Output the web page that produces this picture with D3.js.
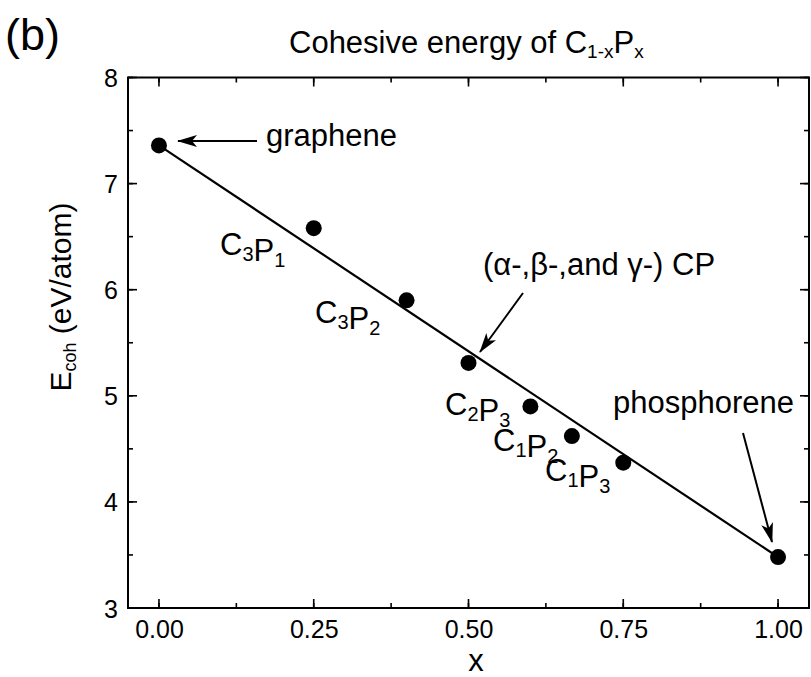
<!DOCTYPE html>
<html>
<head>
<meta charset="utf-8">
<script src="https://cdn.jsdelivr.net/npm/d3@7"></script>
<style>
  html, body { margin: 0; padding: 0; background: #fff; }
  svg text { fill: #000; font-family: "Liberation Sans", Arial, Helvetica, sans-serif; }
</style>
</head>
<body>
<svg id="chart" width="811" height="677"></svg>
<script>
// Cohesive energy of C(1-x)P(x) compounds
const compounds = ["graphene", "C3P1", "C3P2", "CP", "C2P3", "C1P2", "C1P3", "phosphorene"];
const xFraction = [0.00, 0.25, 0.40, 0.50, 0.60, 0.667, 0.75, 1.00];
const ecoh      = [7.36, 6.58, 5.90, 5.31, 4.90, 4.62, 4.37, 3.48];
const xTicks = [0.00, 0.25, 0.50, 0.75, 1.00];
const xTickLabels = ["0.00", "0.25", "0.50", "0.75", "1.00"];
const yTicks = [3, 4, 5, 6, 7, 8];
// Linear trend drawn between the two elemental end members
const trendX = [0.00, 1.00];
const trendY = [7.36, 3.48];

const svg = d3.select("#chart");
const plotL = 128, plotR = 809, plotT = 77.5, plotB = 608;

const x = d3.scaleLinear().domain([-0.05, 1.05]).range([plotL, plotR]);
const y = d3.scaleLinear().domain([3, 8]).range([plotB, plotT]);

// frame
svg.append("rect")
  .attr("x", plotL).attr("y", plotT)
  .attr("width", plotR - plotL).attr("height", plotB - plotT)
  .attr("fill", "none").attr("stroke", "#000").attr("stroke-width", 2);

const xMinor = d3.range(0, 1.0001, 0.125);
const yMinor = d3.range(3, 8.0001, 0.5);

function ticks(g, scale, vals, len, side) {
  vals.forEach(v => {
    const p = scale(v);
    if (side === "bottom") g.append("line").attr("x1", p).attr("x2", p).attr("y1", plotB).attr("y2", plotB - len);
    if (side === "top") g.append("line").attr("x1", p).attr("x2", p).attr("y1", plotT).attr("y2", plotT + len);
    if (side === "left") g.append("line").attr("y1", p).attr("y2", p).attr("x1", plotL).attr("x2", plotL + len);
    if (side === "right") g.append("line").attr("y1", p).attr("y2", p).attr("x1", plotR).attr("x2", plotR - len);
  });
}
const tg = svg.append("g").attr("stroke", "#000").attr("stroke-width", 1.6);
["bottom", "top"].forEach(s => { ticks(tg, x, xMinor, 5, s); ticks(tg, x, xTicks, 9, s); });
["left", "right"].forEach(s => { ticks(tg, y, yMinor, 5, s); ticks(tg, y, yTicks, 9, s); });

// tick labels via d3 axes (lines hidden, text kept)
const xAxis = svg.append("g").attr("transform", `translate(0,${plotB})`)
  .call(d3.axisBottom(x).tickValues(xTicks).tickFormat((d, i) => xTickLabels[i]).tickSize(0).tickPadding(30));
const yAxis = svg.append("g").attr("transform", `translate(${plotL},0)`)
  .call(d3.axisLeft(y).tickValues(yTicks).tickFormat(d3.format("d")).tickSize(0).tickPadding(10));
[xAxis, yAxis].forEach(a => {
  a.select(".domain").remove();
  a.selectAll("text").attr("font-size", 25).attr("fill", "#000")
    .attr("font-family", "'Liberation Sans', Arial, sans-serif");
});
yAxis.selectAll("text").attr("dy", "0.36em");
xAxis.selectAll("text").attr("dy", 0);

// trend line
svg.append("path")
  .datum(trendX.map((d, i) => [d, trendY[i]]))
  .attr("d", d3.line().x(d => x(d[0])).y(d => y(d[1])))
  .attr("fill", "none").attr("stroke", "#000").attr("stroke-width", 2.2);

// data points
svg.append("g").selectAll("circle")
  .data(xFraction.map((d, i) => ({ x: d, y: ecoh[i] })))
  .join("circle")
  .attr("cx", d => x(d.x)).attr("cy", d => y(d.y)).attr("r", 8)
  .attr("fill", "#000");

// arrowhead marker
svg.append("defs").append("marker")
  .attr("id", "arrow").attr("viewBox", "0 0 20 12")
  .attr("refX", 19).attr("refY", 6)
  .attr("markerWidth", 20).attr("markerHeight", 12)
  .attr("markerUnits", "userSpaceOnUse").attr("orient", "auto")
  .append("path").attr("d", "M0,0 L20,6 L0,12 L5,6 Z").attr("fill", "#000");

function arrow(x1, y1, x2, y2) {
  svg.append("line").attr("x1", x1).attr("y1", y1).attr("x2", x2).attr("y2", y2)
    .attr("stroke", "#000").attr("stroke-width", 2).attr("marker-end", "url(#arrow)");
}
arrow(257, 141, 178, 141);
arrow(523, 293, 480, 352);
arrow(743, 433, 772, 542);

// plain annotations
function label(txt, px, py, size) {
  svg.append("text").attr("x", px).attr("y", py).attr("font-size", size).text(txt);
}
label("graphene", 266, 146, 31);
label("(α-,β-,and γ-) CP", 483, 275, 31);
label("phosphorene", 613, 413, 31);

// formula labels with subscripts
function formula(parts, px, py) {
  const t = svg.append("text").attr("x", px).attr("y", py).attr("font-size", 31);
  parts.forEach(([main, sub]) => {
    t.append("tspan").text(main);
    t.append("tspan").attr("font-size", 20).attr("dy", 6).text(sub);
    t.append("tspan").attr("dy", -6).text("");
  });
}
formula([["C", "3"], ["P", "1"]], 220, 255);
formula([["C", "3"], ["P", "2"]], 315, 323);
formula([["C", "2"], ["P", "3"]], 445, 415);
formula([["C", "1"], ["P", "2"]], 493, 451);
formula([["C", "1"], ["P", "3"]], 545, 481);

// title
const title = svg.append("text").attr("x", 289).attr("y", 53).attr("font-size", 31);
title.append("tspan").text("Cohesive energy of C");
title.append("tspan").attr("font-size", 19).attr("dy", 5).text("1-x");
title.append("tspan").attr("dy", -5).text("P");
title.append("tspan").attr("font-size", 19).attr("dy", 5).text("x");

// panel tag
svg.append("text").attr("x", 5).attr("y", 50).attr("font-size", 45).text("(b)");

// axis titles
svg.append("text").attr("x", 476).attr("y", 671)
  .attr("text-anchor", "middle").attr("font-size", 31).text("x");

const yt = svg.append("text")
  .attr("transform", "translate(71,297) rotate(-90)")
  .attr("text-anchor", "middle").attr("font-size", 30);
yt.append("tspan").text("E");
yt.append("tspan").attr("font-size", 18).attr("dy", 5).text("coh");
yt.append("tspan").attr("dy", -5).text(" (eV/atom)");
</script>
</body>
</html>
